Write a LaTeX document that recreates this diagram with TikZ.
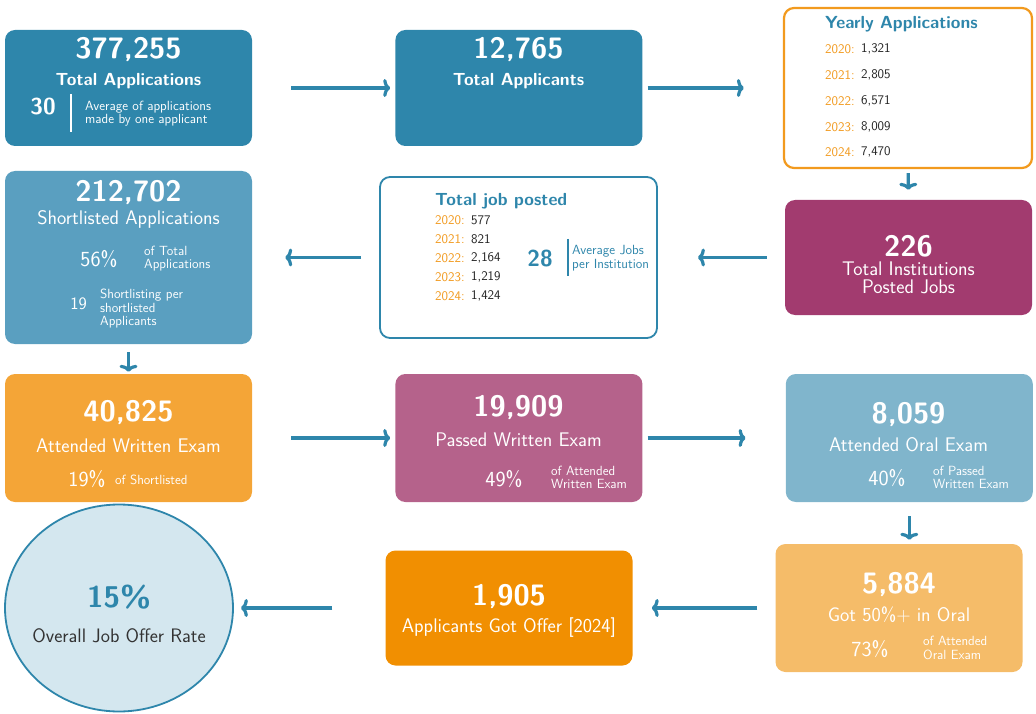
\documentclass[tikz,border=0pt]{standalone}
\usepackage{xcolor}
\usetikzlibrary{arrows.meta, positioning, shapes.geometric}
\renewcommand{\familydefault}{\sfdefault}
\definecolor{jobBlue}{HTML}{2E86AB}
\definecolor{shortBlue}{HTML}{5A9FC0}
\definecolor{skyBlue}{HTML}{80B5CC}
\definecolor{plum}{HTML}{A23B6F}
\definecolor{mauve}{HTML}{B5628B}
\definecolor{amber}{HTML}{F4A537}
\definecolor{sand}{HTML}{F5BC69}
\definecolor{tangerine}{HTML}{F18F01}
\definecolor{jobOrange}{HTML}{F29A1E}
\definecolor{circleFill}{HTML}{D4E7EF}
\definecolor{inkDark}{HTML}{222222}
\definecolor{inkGray}{HTML}{333333}

\begin{document}
\begin{tikzpicture}[
  x=1pt, y=-1pt,
  node distance=143pt,
  card/.style={rounded corners=10pt, minimum width=247pt, minimum height=128pt, inner sep=0pt},
  panel/.style={draw, line width=1.8pt, rounded corners=10pt, fill=white, inner sep=0pt},
  bignum/.style={font=\fontsize{29.5}{31}\selectfont\bfseries, text=white, inner sep=0pt},
  caption/.style={font=\fontsize{19.7}{21}\selectfont, text=white, align=center, inner sep=0pt},
  headline/.style={font=\fontsize{17.5}{19}\selectfont\bfseries, inner sep=0pt},
  share/.style={font=\fontsize{21.5}{22}\selectfont, text=white, inner sep=0pt},
  midnum/.style={font=\fontsize{23}{24}\selectfont\bfseries, inner sep=0pt},
  note/.style={font=\fontsize{13.3}{13.5}\selectfont, align=left, anchor=west, text=white, inner sep=0pt},
  year/.style={font=\fontsize{13.2}{14}\selectfont, anchor=west, text=jobOrange, inner sep=0pt},
  count/.style={font=\fontsize{13.2}{14}\selectfont, anchor=west, text=inkDark, inner sep=0pt},
  flow/.style={-{To[length=7pt, width=18pt]}, line width=3.2pt, draw=jobBlue}
]
\useasboundingbox (0,0) rectangle (1036,714);

% row 1: applications
\node[card, fill=jobBlue, minimum height=116pt] (apps) at (128.5,88) {};
\node[card, fill=jobBlue, minimum height=116pt, right=of apps] (appl) {};
\node[panel, draw=jobOrange, line width=2.2pt, minimum width=248pt, minimum height=160pt] (yearly) at (908,88) {};

\node[bignum] (apps-num) at (128.5,50) {377,255};
\node[headline, text=white] (apps-lbl) at (128.5,81) {Total Applications};
\node[midnum, text=white] (apps-avg) at (43,107) {30};
\draw[white, line width=2pt] (71,94) -- (71,132);
\node[note] (apps-note) at (85,113.5) {Average of applications\\made by one applicant};

\node[bignum] (appl-num) at (518.5,50) {12,765};
\node[headline, text=white] (appl-lbl) at (518.5,81) {Total Applicants};

\node[headline, text=jobBlue, anchor=west] (yearly-lbl) at (825,24) {Yearly Applications};
\foreach \yr/\val/\y in {2020/{1,321}/49, 2021/{2,805}/75, 2022/{6,571}/101, 2023/{8,009}/127, 2024/{7,470}/152}{
  \node[year] (ya-\yr) at (825,\y) {\yr:};
  \node[count] (yv-\yr) at (861,\y) {\val};
}

% row 2: shortlisting and job posts
\node[card, fill=shortBlue, minimum height=173pt] (short) at (128.5,257.5) {};
\node[panel, draw=jobBlue, minimum width=277pt, minimum height=161pt] (posted) at (518.5,257.5) {};
\node[card, fill=plum, minimum height=115pt] (inst) at (908.5,257.5) {};

\node[bignum] (short-num) at (128.5,193) {212,702};
\node[caption] (short-lbl) at (128.5,219) {Shortlisted Applications};
\node[share] (short-pct) at (99,259) {56\%};
\node[note] (short-note) at (144,258.5) {of Total\\Applications};
\node[share, font=\fontsize{17.5}{18}\selectfont] (short-avg) at (78.5,304) {19};
\node[note] (short-per) at (100,309) {Shortlisting per\\shortlisted\\Applicants};

\node[headline, text=jobBlue, anchor=west] (posted-lbl) at (435,201) {Total job posted};
\foreach \yr/\val/\y in {2020/577/220, 2021/821/239, 2022/{2,164}/258, 2023/{1,219}/277, 2024/{1,424}/296}{
  \node[year] (py-\yr) at (435,\y) {\yr:};
  \node[count] (pv-\yr) at (471,\y) {\val};
}
\node[midnum, text=jobBlue] (posted-avg) at (540,259) {28};
\draw[jobBlue, line width=2pt] (568,239) -- (568,276);
\node[note, text=jobBlue] (posted-note) at (572,258) {Average Jobs\\per Institution};

\node[bignum] (inst-num) at (908.5,246) {226};
\node[caption, font=\fontsize{19.7}{18.5}\selectfont] (inst-lbl) at (908.5,278) {Total Institutions\\Posted Jobs};

% row 3: written and oral exams
\node[card, fill=amber] (written) at (128.5,438) {};
\node[card, fill=mauve, right=of written] (passed) {};
\node[card, fill=skyBlue, right=of passed] (oral) {};

\node[bignum] (written-num) at (128.5,413) {40,825};
\node[caption] (written-lbl) at (128.5,446) {Attended Written Exam};
\node[share] (written-pct) at (87,479) {19\%};
\node[note] (written-note) at (115,480) {of Shortlisted};

\node[bignum] (passed-num) at (518.5,408) {19,909};
\node[caption] (passed-lbl) at (518.5,440) {Passed Written Exam};
\node[share] (passed-pct) at (504,479) {49\%};
\node[note] (passed-note) at (551,477.5) {of Attended\\Written Exam};

\node[bignum] (oral-num) at (908.5,414) {8,059};
\node[caption] (oral-lbl) at (908.5,445) {Attended Oral Exam};
\node[share] (oral-pct) at (887,478.5) {40\%};
\node[note] (oral-note) at (933,477.5) {of Passed\\Written Exam};

% row 4: offers
\node[card, fill=sand] (got50) at (899,608) {};
\node[card, fill=tangerine, minimum height=115pt] (offer) at (509,608) {};
\node[ellipse, draw=jobBlue, line width=1.8pt, fill=circleFill, minimum width=228pt, minimum height=207pt, inner sep=0pt] (rate) at (119,608) {};

\node[bignum] (got50-num) at (899,584) {5,884};
\node[caption] (got50-lbl) at (899,615) {Got 50\%+ in Oral};
\node[share] (got50-pct) at (870,649) {73\%};
\node[note] (got50-note) at (923,648) {of Attended\\Oral Exam};

\node[bignum] (offer-num) at (509,596) {1,905};
\node[caption] (offer-lbl) at (509,628) {Applicants Got Offer [2024]};

\node[bignum, font=\fontsize{30}{32}\selectfont\bfseries, text=jobBlue] (rate-num) at (119,597) {15\%};
\node[caption, font=\fontsize{19.5}{21}\selectfont, text=inkGray] (rate-lbl) at (119,636) {Overall Job Offer Rate};

% connectors
\draw[flow, shorten <=39pt, shorten >=5pt] (apps) -- (appl);
\draw[flow, shorten <=5pt, shorten >=39pt] (appl) -- (yearly);
\draw[flow, shorten <=4pt, shorten >=10pt] (yearly) -- (inst);
\draw[flow, shorten <=18pt, shorten >=40pt] (inst) -- (posted);
\draw[flow, shorten <=18pt, shorten >=33pt] (posted) -- (short);
\draw[flow, shorten <=8pt, shorten >=2pt] (short) -- (written);
\draw[flow, shorten <=39pt, shorten >=5pt] (written) -- (passed);
\draw[flow, shorten <=5pt, shorten >=40pt] (passed) -- (oral);
\draw[flow, shorten <=14pt, shorten >=4pt] (oral.south) -- (oral.south |- got50.north);
\draw[flow, shorten <=18pt, shorten >=19pt] (got50) -- (offer);
\draw[flow, shorten <=53pt, shorten >=7pt] (offer) -- (rate);
\end{tikzpicture}
\end{document}
